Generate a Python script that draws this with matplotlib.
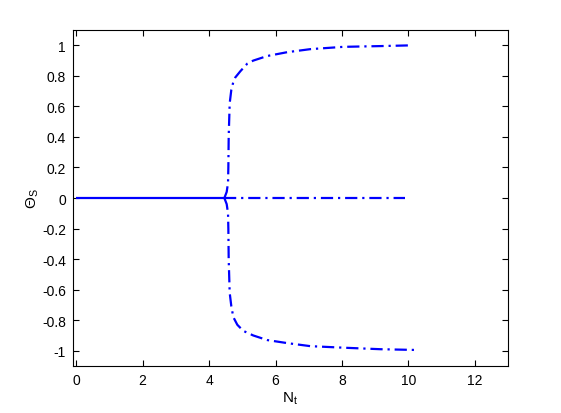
import matplotlib
matplotlib.use("Agg")
import matplotlib.pyplot as plt

# trivial branch (stable part, solid)
x_zero_solid = [0.0, 4.46]
y_zero_solid = [0.0, 0.0]
# trivial branch (unstable part, dash-dot)
x_zero_dash = [4.46, 9.9]
y_zero_dash = [0.0, 0.0]
# upper branch
x_up = [4.46, 4.53, 4.57, 4.58, 4.59, 4.62, 4.67, 4.73, 4.79, 4.94, 5.15, 5.33,
        5.75, 6.35, 7.05, 8.04, 9.16, 10.12]
y_up = [0.0, 0.04, 0.10, 0.20, 0.40, 0.62, 0.71, 0.76, 0.79, 0.83, 0.88, 0.90,
        0.93, 0.955, 0.975, 0.99, 0.995, 1.0]
# lower branch
x_lo = [4.46, 4.53, 4.57, 4.58, 4.59, 4.62, 4.67, 4.73, 4.85, 5.03, 5.33,
        5.75, 6.35, 7.05, 8.04, 9.16, 10.24]
y_lo = [0.0, -0.04, -0.10, -0.20, -0.40, -0.62, -0.71, -0.78, -0.83, -0.87, -0.90,
        -0.93, -0.95, -0.97, -0.98, -0.99, -0.995]

plt.rcParams["font.family"] = ["Liberation Sans", "DejaVu Sans"]
plt.rcParams["font.size"] = 10
plt.rcParams["mathtext.fontset"] = "custom"
plt.rcParams["mathtext.rm"] = "Liberation Sans"

fig = plt.figure(figsize=(5.61, 4.14), dpi=100)
ax = fig.add_axes([0.130, 0.1135, 0.7755, 0.8115])

blue = (0, 0, 1)
dd = (0, (5.5, 2.2, 1.0, 2.2))
ax.plot(x_zero_solid, y_zero_solid, color=blue, lw=1.6, solid_capstyle="butt")
ax.plot(x_zero_dash, y_zero_dash, color=blue, lw=1.6, linestyle=dd)
ax.plot(x_up, y_up, color=blue, lw=1.6, linestyle=dd)
ax.plot(x_lo, y_lo, color=blue, lw=1.6, linestyle=dd)

ax.set_xlim(-0.1, 13)
ax.set_ylim(-1.1, 1.1)
ax.set_xticks([0, 2, 4, 6, 8, 10, 12])
ax.set_yticks([-1, -0.8, -0.6, -0.4, -0.2, 0, 0.2, 0.4, 0.6, 0.8, 1])
ax.set_yticklabels(["-1", "-0.8", "-0.6", "-0.4", "-0.2", "0", "0.2", "0.4",
                    "0.6", "0.8", "1"])
ax.tick_params(direction="in", top=True, right=True, length=4, width=0.8,
               labelsize=10, pad=5)
for s in ax.spines.values():
    s.set_linewidth(0.8)

ax.set_xlabel(r"N$_\mathrm{t}$", fontsize=11, labelpad=2)
ax.set_ylabel(r"$\Theta_\mathrm{S}$", fontsize=11, labelpad=1)

fig.savefig("out.png", dpi=100)
